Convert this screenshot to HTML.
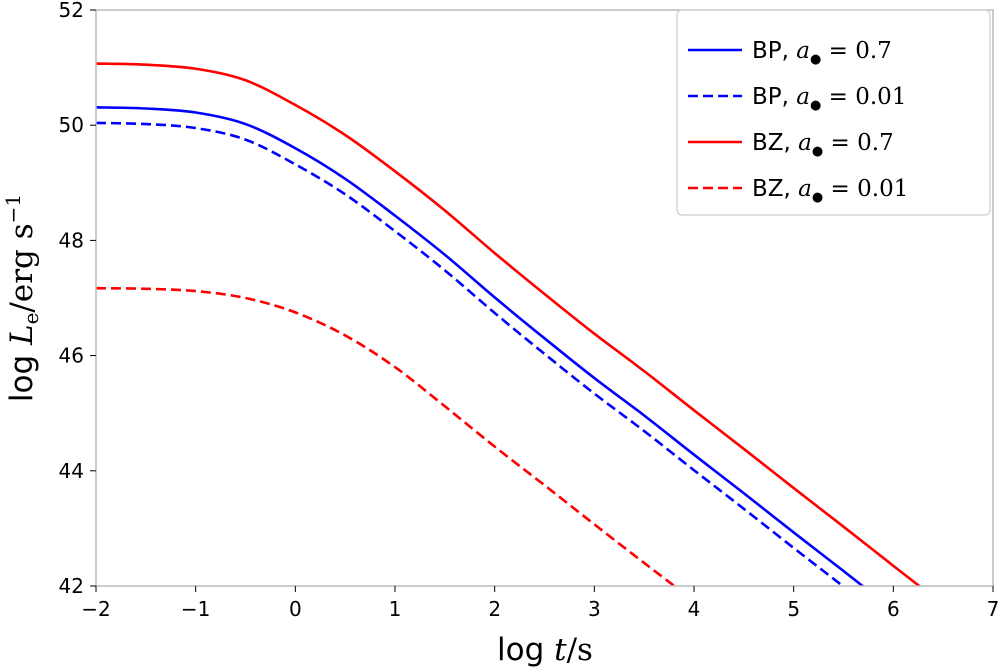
<!DOCTYPE html>
<html><head><meta charset="utf-8"><style>
html,body{margin:0;background:#fff;overflow:hidden;width:1000px;height:672px;}
svg{display:block;}
svg text{font-family:"DejaVu Sans","Liberation Sans",sans-serif;}
.m{font-family:"DejaVu Serif","Liberation Serif",serif;font-style:italic;}
.r{font-family:"DejaVu Serif","Liberation Serif",serif;}
</style></head><body>
<svg id="chart" width="1000" height="672" viewBox="0 0 1000 672">
<defs><clipPath id="clip"><rect x="96" y="10" width="897" height="576"/></clipPath></defs>
<g id="marks" clip-path="url(#clip)"></g>
<rect x="96" y="10" width="897" height="576" fill="none" stroke="#bbb" stroke-width="1.5"/>
<g id="ticks"></g>
<text x="545" y="660" font-size="31" text-anchor="middle">log <tspan class="m">t</tspan><tspan class="r">/s</tspan></text>
<text transform="translate(32,298) rotate(-90)" font-size="31" text-anchor="middle">log <tspan class="m">L</tspan><tspan class="r" font-size="20" dy="6">e</tspan><tspan class="r" dy="-6">/erg s</tspan><tspan class="r" font-size="20" dy="-12">−1</tspan></text>
<g>
<rect x="677" y="10" width="313" height="205" rx="5" fill="#fff" stroke="#ccc" stroke-width="1.2"/>
<g id="legend"></g>
</g>
</svg>
<script>
const xs=[-2,-1.5,-1,-0.5,0,0.5,1,1.5,2,2.5,3,3.5,4,4.5,5,5.5,6,6.5];
const bzHigh=[51.07,51.05,50.98,50.78,50.35,49.83,49.2,48.52,47.78,47.07,46.38,45.73,45.05,44.38,43.7,43.03,42.35,41.68];
const bpHigh=[50.31,50.29,50.22,50.02,49.6,49.07,48.43,47.75,47.01,46.3,45.61,44.96,44.28,43.61,42.93,42.26,41.58,40.9];
const bpLow=[50.04,50.02,49.95,49.75,49.32,48.8,48.16,47.48,46.74,46.03,45.34,44.69,44.01,43.34,42.66,41.99,41.31,40.63];
const bzLow=[47.17,47.16,47.12,47.0,46.75,46.35,45.8,45.12,44.42,43.75,43.07,42.4,41.74,41.07,40.4,39.73,39.06,38.4];
const xTicks=[-2,-1,0,1,2,3,4,5,6,7];
const yTicks=[42,44,46,48,50,52];
const labels=["BP","BP","BZ","BZ"];
const spins=["0.7","0.01","0.7","0.01"];
const NS="http://www.w3.org/2000/svg";
const X=v=>96+(v+2)*99.67, Y=v=>10+(52-v)*57.6;
const marks=document.getElementById('marks'), ticks=document.getElementById('ticks'), legend=document.getElementById('legend');
const series=[[bpHigh,'#0000ff',false,'bp-high-spin'],[bpLow,'#0000ff',true,'bp-low-spin'],[bzHigh,'#ff0000',false,'bz-high-spin'],[bzLow,'#ff0000',true,'bz-low-spin']];
function smooth(pts){let d=`M${pts[0][0]},${pts[0][1]}`;for(let i=0;i<pts.length-1;i++){const p0=pts[Math.max(0,i-1)],p1=pts[i],p2=pts[i+1],p3=pts[Math.min(pts.length-1,i+2)];d+=` C${p1[0]+(p2[0]-p0[0])/6},${p1[1]+(p2[1]-p0[1])/6} ${p2[0]-(p3[0]-p1[0])/6},${p2[1]-(p3[1]-p1[1])/6} ${p2[0]},${p2[1]}`;}return d;}
series.forEach((s,k)=>{
 const p=document.createElementNS(NS,'path');
 p.setAttribute('d',smooth(xs.map((x,i)=>[X(x),Y(s[0][i])])));
 p.setAttribute('fill','none');p.setAttribute('stroke',s[1]);p.setAttribute('stroke-width','2.6');p.setAttribute('stroke-linejoin','round');
 if(s[2])p.setAttribute('stroke-dasharray','10,5');
 
 
 marks.appendChild(p);
 const yy=50+k*46;
 const l=document.createElementNS(NS,'line');
 l.setAttribute('x1',688);l.setAttribute('x2',742);l.setAttribute('y1',yy);l.setAttribute('y2',yy);
 l.setAttribute('stroke',s[1]);l.setAttribute('stroke-width','2.6');
 if(s[2])l.setAttribute('stroke-dasharray','10,5');
 
 
 legend.appendChild(l);
 const t=document.createElementNS(NS,'text');
 t.setAttribute('x',752);t.setAttribute('y',yy+8);t.setAttribute('font-size','23');
 t.innerHTML=labels[k]+', <tspan class="m">a</tspan><tspan class="r" font-size="13" dy="5">●</tspan><tspan class="r" dy="-5"> = '+spins[k]+'</tspan>';
 
 
 legend.appendChild(t);
});
xTicks.forEach(v=>{
 const l=document.createElementNS(NS,'line');l.setAttribute('x1',X(v));l.setAttribute('x2',X(v));l.setAttribute('y1',586);l.setAttribute('y2',592);l.setAttribute('stroke','#000');
 
 
 ticks.appendChild(l);
 const t=document.createElementNS(NS,'text');t.setAttribute('x',X(v));t.setAttribute('y',616);t.setAttribute('font-size','20');t.setAttribute('text-anchor','middle');t.textContent=v<0?'−'+(-v):v;
 
 
 ticks.appendChild(t);
});
yTicks.forEach(v=>{
 const l=document.createElementNS(NS,'line');l.setAttribute('x1',90);l.setAttribute('x2',96);l.setAttribute('y1',Y(v));l.setAttribute('y2',Y(v));l.setAttribute('stroke','#000');
 
 
 ticks.appendChild(l);
 const t=document.createElementNS(NS,'text');t.setAttribute('x',84);t.setAttribute('y',Y(v)+7);t.setAttribute('font-size','20');t.setAttribute('text-anchor','end');t.textContent=v;
 
 
 ticks.appendChild(t);
});
</script>
</body></html>
